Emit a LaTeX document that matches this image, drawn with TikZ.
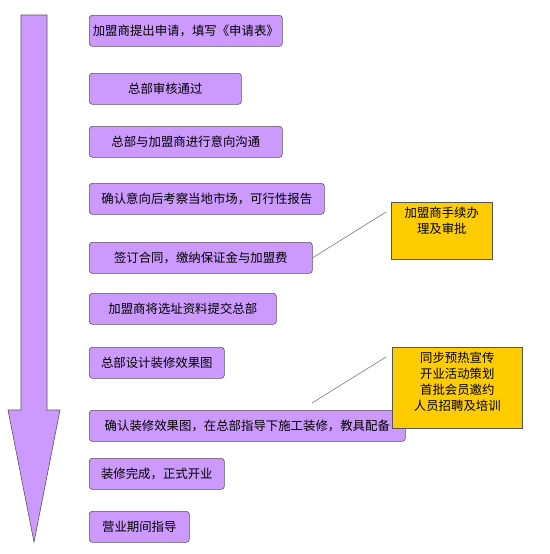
\documentclass[tikz,border=0pt]{standalone}
\usepackage{fontspec}
\setmainfont{Noto Sans CJK SC}
\usetikzlibrary{positioning}
\definecolor{flowpurple}{HTML}{CC99FF}
\definecolor{flowgold}{HTML}{FFCC00}
\definecolor{flowedge}{HTML}{555555}

\begin{document}
\begin{tikzpicture}[x=1pt, y=-1pt,
  stepbox/.style={draw=flowedge, fill=flowpurple, rounded corners=3pt,
                  line width=0.6pt, anchor=north west, minimum height=31pt,
                  inner sep=1pt, font=\fontsize{12.4}{14}\selectfont},
  notebox/.style={draw=flowedge, fill=flowgold, line width=0.6pt,
                  anchor=north west, inner sep=0pt},
  notetext/.style={align=center, inner sep=0pt,
                   font=\fontsize{12.4}{16}\selectfont},
  leader/.style={draw=flowedge!80, line width=0.6pt}
]
  \useasboundingbox (0,0) rectangle (549,554);

  % big arrow on the left
  \draw[draw=flowedge, fill=flowpurple, line width=0.6pt]
    (21,15) -- (47,15) -- (47,410) -- (60,410) -- (34,542)
    -- (8,410) -- (21,410) -- cycle;

  % steps
  \node[stepbox, minimum width=193pt] (s1) at (89,15) {加盟商提出申请，填写《申请表》};
  \node[stepbox, minimum width=152pt] (s2) at (89,73) {总部审核通过};
  \node[stepbox, minimum width=193pt] (s3) at (89,126) {总部与加盟商进行意向沟通};
  \node[stepbox, minimum width=235pt] (s4) at (89,183) {确认意向后考察当地市场，可行性报告};
  \node[stepbox, minimum width=223pt] (s5) at (89,242) {签订合同，缴纳保证金与加盟费};
  \node[stepbox, minimum width=187pt] (s6) at (89,293) {加盟商将选址资料提交总部};
  \node[stepbox, minimum width=135pt] (s7) at (89,347) {总部设计装修效果图};
  \node[stepbox, minimum width=316pt] (s8) at (89,410) {确认装修效果图，在总部指导下施工装修，教具配备};
  \node[stepbox, minimum width=135pt] (s9) at (89,458) {装修完成，正式开业};
  \node[stepbox, minimum width=100pt] (s10) at (89,511) {营业期间指导};

  % notes
  \node[notebox, minimum width=101pt, minimum height=57pt] (n1) at (391,202) {};
  \node[notetext, below=5pt of n1.north] (n1t) {加盟商手续办\\理及审批};
  \node[notebox, minimum width=130pt, minimum height=81pt] (n2) at (392,347) {};
  \node[notetext, below=5pt of n2.north] (n2t)
    {同步预热宣传\\开业活动策划\\首批会员邀约\\人员招聘及培训};

  \coordinate (c1) at (386,212);
  \coordinate (c2a) at (312,403);
  \coordinate (c2b) at (386,357);
  \draw[leader] (s5.east) -- (c1);
  \draw[leader] (c2a) -- (c2b);
\end{tikzpicture}
\end{document}
